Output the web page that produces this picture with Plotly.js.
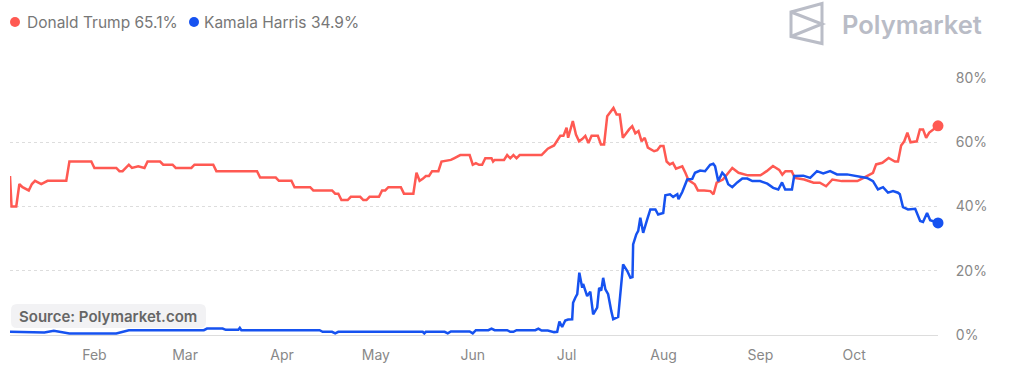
<!DOCTYPE html>
<html>
<head>
<meta charset="utf-8">
<script src="https://cdn.plot.ly/plotly-3.0.1.min.js"></script>
<style>
  html, body { margin: 0; padding: 0; background: #fff; }
  #chart { width: 1026px; height: 381px; }
</style>
</head>
<body>
<div id="chart"></div>
<script>
// ---- Data ----
const trumpName = 'Donald Trump';
const harrisName = 'Kamala Harris';
const monthTickFormat = '%b';

const trumpDates = [
  '2024-01-05','2024-01-05 12:00','2024-01-07','2024-01-08','2024-01-09','2024-01-11','2024-01-12','2024-01-13','2024-01-15','2024-01-17',
  '2024-01-23','2024-01-24','2024-01-31','2024-02-01','2024-02-08','2024-02-09','2024-02-10','2024-02-11','2024-02-12','2024-02-13',
  '2024-02-15','2024-02-17','2024-02-18','2024-02-22','2024-02-23','2024-02-26','2024-02-27','2024-03-03','2024-03-04','2024-03-10',
  '2024-03-11','2024-03-24','2024-03-25','2024-03-30','2024-03-31','2024-04-04','2024-04-05','2024-04-10','2024-04-11','2024-04-17',
  '2024-04-18','2024-04-19','2024-04-20','2024-04-22','2024-04-23','2024-04-26','2024-04-27','2024-04-28','2024-04-29','2024-05-02',
  '2024-05-03','2024-05-04','2024-05-05','2024-05-09','2024-05-10','2024-05-13','2024-05-14','2024-05-15','2024-05-16','2024-05-17',
  '2024-05-18','2024-05-19','2024-05-21','2024-05-22','2024-05-24','2024-05-25','2024-05-26','2024-05-28','2024-05-31','2024-06-01',
  '2024-06-02','2024-06-03','2024-06-04','2024-06-05','2024-06-07','2024-06-07 12:00','2024-06-08','2024-06-11','2024-06-12','2024-06-13',
  '2024-06-14','2024-06-15','2024-06-16','2024-06-23','2024-06-24','2024-06-25','2024-06-27','2024-06-29','2024-06-30','2024-07-01',
  '2024-07-01 12:00','2024-07-03','2024-07-04','2024-07-05','2024-07-06','2024-07-07','2024-07-08','2024-07-09','2024-07-11','2024-07-12',
  '2024-07-13','2024-07-14','2024-07-16','2024-07-17','2024-07-18','2024-07-19','2024-07-21','2024-07-22','2024-07-23','2024-07-24',
  '2024-07-25','2024-07-26','2024-07-27','2024-07-29','2024-07-30','2024-07-31','2024-08-01','2024-08-02','2024-08-03','2024-08-04',
  '2024-08-05','2024-08-07','2024-08-08','2024-08-09','2024-08-11','2024-08-12','2024-08-14','2024-08-16','2024-08-17','2024-08-18',
  '2024-08-20','2024-08-22','2024-08-23','2024-08-25','2024-08-28','2024-09-01','2024-09-03','2024-09-05','2024-09-07','2024-09-08',
  '2024-09-09','2024-09-11','2024-09-12','2024-09-15','2024-09-18','2024-09-20','2024-09-22','2024-09-24','2024-09-27','2024-09-30',
  '2024-10-02','2024-10-04','2024-10-07','2024-10-08','2024-10-10','2024-10-12','2024-10-14','2024-10-15','2024-10-16','2024-10-17',
  '2024-10-18','2024-10-19','2024-10-21','2024-10-22','2024-10-23','2024-10-24','2024-10-25','2024-10-27 19:00'
];
const trumpValues = [
  49.5, 40, 40, 47, 46, 45, 47, 48, 47, 48,
  48, 54, 54, 52, 52, 51, 51, 52, 53, 52,
  52.5, 52, 54, 54, 53, 53, 52, 52, 53, 53,
  51, 51, 49, 49, 48, 48, 46, 46, 45, 45,
  44, 44, 42, 42, 43, 43, 42, 42, 43, 43,
  45, 45, 46, 46, 44, 44, 50.5, 48, 48.6, 49.5,
  49.5, 51, 51, 54, 54.2, 54.5, 55, 56, 56, 53,
  53.5, 53, 53, 55, 55, 54, 54.5, 54.5, 56, 55,
  56, 55, 56, 56, 57, 58, 59, 62, 62, 64.5,
  61.4, 66.6, 62.4, 60.3, 61, 62, 59.8, 62, 62, 59.3,
  59.3, 68.1, 70.7, 68.6, 68.6, 61.4, 64, 65, 62.8, 63.5,
  60.3, 61.4, 58.3, 57.2, 57.5, 58.8, 58.8, 54, 53.1, 53.6,
  51.8, 52.5, 50.5, 48.2, 46.9, 45, 45, 44.8, 43.8, 47.4,
  48.4, 51, 52, 50.5, 49.7, 49.7, 51, 52.6, 51.4, 49.9,
  51, 51, 48.9, 48.4, 47.4, 47.4, 46.3, 48.4, 47.9, 47.9,
  47.9, 48.9, 50.5, 53.1, 53.6, 55.1, 54, 54, 59, 60.3,
  63, 60, 60.3, 64, 64, 61.4, 63, 65.1
];

const harrisDates = [
  '2024-01-05','2024-01-12','2024-01-16','2024-01-19','2024-01-24','2024-02-08','2024-02-12','2024-03-07','2024-03-08','2024-03-13',
  '2024-03-14','2024-03-18','2024-03-18 12:00','2024-03-19','2024-04-13','2024-04-14','2024-04-17','2024-04-18','2024-04-19','2024-05-16',
  '2024-05-16 12:00','2024-05-17','2024-05-23','2024-05-24','2024-05-25','2024-05-31','2024-06-01','2024-06-02','2024-06-06','2024-06-07',
  '2024-06-08','2024-06-12','2024-06-13','2024-06-14','2024-06-15','2024-06-21','2024-06-22','2024-06-23','2024-06-25','2024-06-27',
  '2024-06-28','2024-06-28 17:00','2024-06-29 14:00','2024-06-30 14:00','2024-07-01 12:00','2024-07-02 19:00','2024-07-03 02:00','2024-07-03 19:00','2024-07-04 10:00','2024-07-05 02:00',
  '2024-07-06 00:00','2024-07-06 07:00','2024-07-07 14:00','2024-07-08 14:00','2024-07-09 12:00','2024-07-10 19:00','2024-07-11 10:00','2024-07-12 02:00','2024-07-12 17:00','2024-07-13 10:00',
  '2024-07-14 07:00','2024-07-15 07:00','2024-07-15 22:00','2024-07-17 12:00','2024-07-18 05:00','2024-07-19 02:00','2024-07-20 10:00','2024-07-21 10:00','2024-07-22 02:00','2024-07-22 07:00',
  '2024-07-23 07:00','2024-07-23 22:00','2024-07-24 14:00','2024-07-25 12:00','2024-07-26 19:00','2024-07-27 19:00','2024-07-29 10:00','2024-07-30 07:00','2024-07-31 22:00','2024-08-01 14:00',
  '2024-08-03 02:00','2024-08-04 02:00','2024-08-05 10:00','2024-08-05 19:00','2024-08-07 00:00','2024-08-08 00:00','2024-08-08 14:00','2024-08-10 05:00','2024-08-11 02:00','2024-08-12 17:00',
  '2024-08-14 07:00','2024-08-15 22:00','2024-08-16 22:00','2024-08-17 12:00','2024-08-18 12:00','2024-08-19 19:00','2024-08-20 17:00','2024-08-21 17:00','2024-08-23 00:00','2024-08-24 14:00',
  '2024-08-26 05:00','2024-08-27 19:00','2024-08-29 10:00','2024-08-31 22:00','2024-09-03 05:00','2024-09-05 02:00','2024-09-06 17:00','2024-09-07 22:00','2024-09-08 22:00','2024-09-11 02:00',
  '2024-09-11 19:00','2024-09-14 17:00','2024-09-16 22:00','2024-09-19 02:00','2024-09-21 02:00','2024-09-23 07:00','2024-09-25 12:00','2024-09-28 17:00','2024-10-01 22:00','2024-10-05 02:00',
  '2024-10-07 00:00','2024-10-08 14:00','2024-10-10 05:00','2024-10-11 19:00','2024-10-13 10:00','2024-10-15 00:00','2024-10-15 14:00','2024-10-16 14:00','2024-10-18 05:00','2024-10-20 12:00',
  '2024-10-22 02:00','2024-10-23 00:00','2024-10-24 07:00','2024-10-25 07:00','2024-10-27 19:00'
];
const harrisValues = [
  1.0, 0.8, 0.8, 1.3, 0.5, 0.5, 1.5, 1.5, 2.0, 2.0,
  1.6, 1.6, 2.2, 1.5, 1.5, 1.0, 1.0, 0.5, 1.0, 1.0,
  0.5, 1.0, 1.0, 0.5, 1.1, 1.1, 0.5, 1.5, 1.5, 2.0,
  1.5, 1.5, 1.0, 1.0, 1.5, 1.5, 2.0, 1.4, 1.4, 0.9,
  1.0, 4.2, 2.5, 4.5, 4.8, 4.9, 10, 11.6, 12.7, 19.4,
  14.7, 15.9, 12.1, 13.5, 6.4, 8.5, 14.7, 13.8, 17.8, 14.2,
  12.7, 7.5, 4.9, 5.6, 13.7, 22, 19.9, 17.8, 18, 28.2,
  31.3, 32.4, 36.5, 31.8, 36, 39.1, 39.1, 37.5, 38, 43.5,
  43.8, 43, 43.8, 42.3, 44.5, 46.9, 48.4, 48.6, 50.5, 51.2,
  51, 53, 53.3, 52.5, 47.9, 50.5, 49.5, 46.9, 46, 47.5,
  48.7, 48.7, 47.9, 47.9, 47.1, 45.8, 45.3, 47.5, 45.3, 45.3,
  49.5, 49.6, 48.9, 51, 50.3, 51, 50, 50, 49.5, 48.9,
  47.9, 45.3, 46, 44.3, 44.8, 44.3, 43.8, 39.8, 39.1, 39.3,
  35.5, 35.2, 38, 35.7, 34.9
];

const yTickValues = [0, 20, 40, 60, 80];
const yTickLabels = ['0%', '20%', '40%', '60%', '80%'];
const sourceText = 'Source: Polymarket.com';
const brandText = 'Polymarket';

// ---- Styling ----
const RED = '#FF5952';
const BLUE = '#1652F0';
const FONT = 'Inter, "Open Sans", Roboto, sans-serif';

// plot area in pixels (for decorations only)
const L = 10, R = 938, T = 78, B = 335;
const px = x => (x - L) / (R - L);
const py = y => (B - y) / (B - T);

const last = a => a[a.length - 1];

function roundRect(x0, y0, x1, y1, r) {
  const P = (x, y) => px(x) + ',' + py(y);
  return 'M' + P(x0 + r, y0) + ' L' + P(x1 - r, y0) + ' Q' + P(x1, y0) + ' ' + P(x1, y0 + r) +
    ' L' + P(x1, y1 - r) + ' Q' + P(x1, y1) + ' ' + P(x1 - r, y1) +
    ' L' + P(x0 + r, y1) + ' Q' + P(x0, y1) + ' ' + P(x0, y1 - r) +
    ' L' + P(x0, y0 + r) + ' Q' + P(x0, y0) + ' ' + P(x0 + r, y0) + ' Z';
}
function poly(pts, close) {
  return pts.map((p, i) => (i ? 'L' : 'M') + px(p[0]) + ',' + py(p[1])).join(' ') + (close ? ' Z' : '');
}

const traces = [
  { x: trumpDates, y: trumpValues, type: 'scatter', mode: 'lines', name: trumpName,
    line: { color: RED, width: 2.5 }, hoverinfo: 'skip' },
  { x: harrisDates, y: harrisValues, type: 'scatter', mode: 'lines', name: harrisName,
    line: { color: BLUE, width: 2.5 }, hoverinfo: 'skip' },
  { x: [last(trumpDates)], y: [last(trumpValues)], type: 'scatter', mode: 'markers',
    marker: { color: RED, size: 11 }, cliponaxis: false, hoverinfo: 'skip' },
  { x: [last(harrisDates)], y: [last(harrisValues)], type: 'scatter', mode: 'markers',
    marker: { color: BLUE, size: 11 }, cliponaxis: false, hoverinfo: 'skip' }
];

const layout = {
  width: 1026, height: 381,
  margin: { l: L, r: 1026 - R, t: T, b: 381 - B, pad: 0 },
  paper_bgcolor: '#ffffff', plot_bgcolor: '#ffffff',
  showlegend: false,
  font: { family: FONT, color: '#888', size: 14 },
  xaxis: {
    type: 'date',
    range: [trumpDates[0], last(trumpDates)],
    dtick: 'M1', tickformat: monthTickFormat,
    showgrid: false, zeroline: false,
    showline: true, linecolor: '#dddddd', linewidth: 1,
    ticks: 'outside', ticklen: 7, tickcolor: 'rgba(0,0,0,0)',
    tickfont: { family: FONT, size: 14, color: '#888' },
    fixedrange: true
  },
  yaxis: {
    side: 'right', range: [0, 80],
    tickmode: 'array', tickvals: yTickValues, ticktext: yTickLabels,
    showgrid: true, gridcolor: '#dddddd', griddash: 'dot', gridwidth: 1,
    zeroline: false, showline: false,
    ticks: 'outside', ticklen: 14, tickcolor: 'rgba(0,0,0,0)',
    tickfont: { family: FONT, size: 14, color: '#888' },
    fixedrange: true
  },
  shapes: [
    // legend dots
    { type: 'circle', xref: 'paper', yref: 'paper', x0: px(10), x1: px(20), y0: py(27), y1: py(17),
      fillcolor: RED, line: { width: 0 } },
    { type: 'circle', xref: 'paper', yref: 'paper', x0: px(189), x1: px(199), y0: py(27), y1: py(17),
      fillcolor: BLUE, line: { width: 0 } },
    // source box
    { type: 'path', xref: 'paper', yref: 'paper', layer: 'above',
      path: roundRect(11, 304, 206, 328, 6),
      fillcolor: 'rgba(241,241,243,0.9)', line: { width: 0 } },
    // Polymarket logo mark
    { type: 'path', xref: 'paper', yref: 'paper',
      path: poly([[791, 12], [822, 3.5], [822, 43.5], [791, 36.5]], true),
      line: { color: '#babdc7', width: 3 }, fillcolor: 'rgba(0,0,0,0)' },
    { type: 'path', xref: 'paper', yref: 'paper',
      path: poly([[791, 12], [822, 24], [791, 36.5]], false),
      line: { color: '#babdc7', width: 3 }, fillcolor: 'rgba(0,0,0,0)' }
  ],
  annotations: [
    { xref: 'paper', yref: 'paper', x: px(25), y: py(22), xanchor: 'left', yanchor: 'middle',
      text: trumpName + ' ' + last(trumpValues).toFixed(1) + '%', showarrow: false,
      font: { family: FONT, size: 15.5, color: '#777' } },
    { xref: 'paper', yref: 'paper', x: px(202), y: py(22), xanchor: 'left', yanchor: 'middle',
      text: harrisName + ' ' + last(harrisValues).toFixed(1) + '%', showarrow: false,
      font: { family: FONT, size: 15.5, color: '#777' } },
    { xref: 'paper', yref: 'paper', x: px(840), y: py(24), xanchor: 'left', yanchor: 'middle',
      text: brandText, showarrow: false,
      font: { family: FONT, size: 25.5, color: '#b9bcc6', weight: 600 } },
    { xref: 'paper', yref: 'paper', x: px(17), y: py(316), xanchor: 'left', yanchor: 'middle',
      text: sourceText, showarrow: false,
      font: { family: FONT, size: 15, color: '#666', weight: 600 } }
  ]
};

Plotly.newPlot('chart', traces, layout, { displayModeBar: false, staticPlot: true });
</script>
</body>
</html>
